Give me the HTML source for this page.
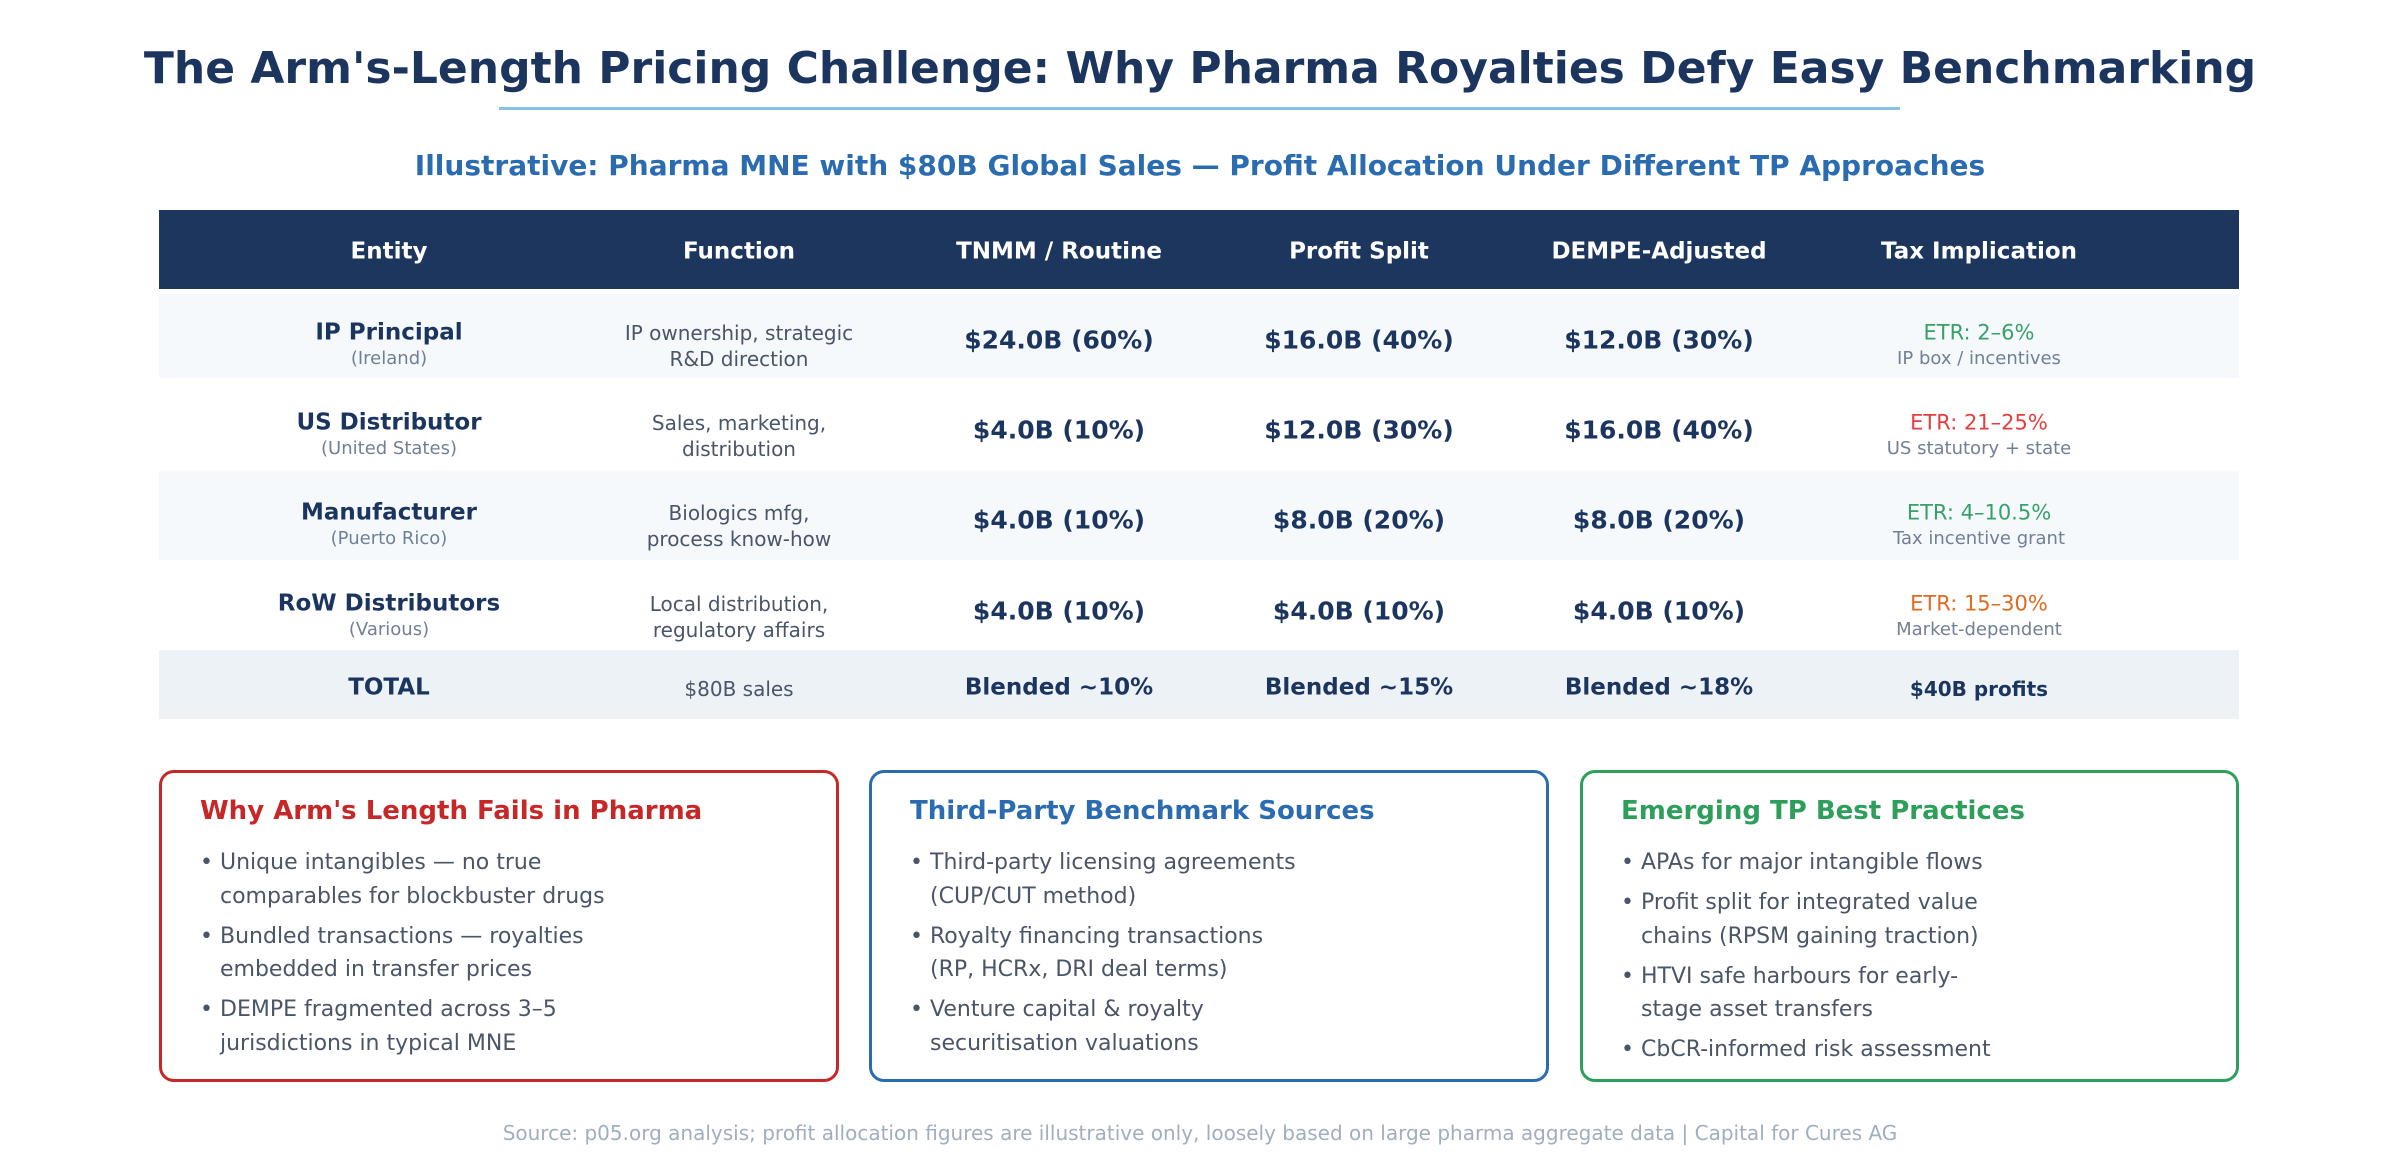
<!DOCTYPE html>
<html><head><meta charset="utf-8"><style>
body{margin:0;background:#fff;font-family:"DejaVu Sans","Liberation Sans",sans-serif;}
#root{position:relative;width:2400px;height:1160px;overflow:hidden;}
.t{position:absolute;white-space:nowrap;transform:translate(-50%,-50%);line-height:1;}
.l{position:absolute;white-space:nowrap;line-height:1;transform:translateY(-50%);}
.b{font-weight:bold;}
.row{position:absolute;left:159px;width:2080px;}
.box{position:absolute;top:770px;height:312px;border:3px solid;border-radius:15px;box-sizing:border-box;}
</style></head><body>
<div id="root">
<div class="t b" style="left:1200px;top:69px;font-size:44px;color:#1c355e">The Arm's-Length Pricing Challenge: Why Pharma Royalties Defy Easy Benchmarking</div>
<div style="position:absolute;left:499px;top:107px;width:1401px;height:3px;background:#85c1e9"></div>
<div class="t b" style="left:1200px;top:166px;font-size:28px;color:#2b6cb0">Illustrative: Pharma MNE with $80B Global Sales — Profit Allocation Under Different TP Approaches</div>

<div class="row" style="top:210px;height:79px;background:#1c365d"></div>
<div class="row" style="top:294px;height:84px;background:#f5f9fc"></div>
<div class="row" style="top:471px;height:89px;background:#f5f9fc"></div>
<div class="row" style="top:650px;height:69px;background:#edf2f7"></div>
<div id="tbl"></div>

<div class="box" style="left:159px;width:680px;border-color:#c62828"></div>
<div class="box" style="left:869px;width:680px;border-color:#2b6cb0"></div>
<div class="box" style="left:1580px;width:659px;border-color:#2e9e5b"></div>
<div id="cards"></div>

<div class="t" style="left:1200px;top:1133px;font-size:20px;color:#a0aec0">Source: p05.org analysis; profit allocation figures are illustrative only, loosely based on large pharma aggregate data | Capital for Cures AG</div>
</div>
<script>
const colX=[389,739,1059,1359,1659,1979];
const headers=["Entity","Function","TNMM / Routine","Profit Split","DEMPE-Adjusted","Tax Implication"];
const rowsY=[337,427,517,608];
const entities=[["IP Principal","(Ireland)"],["US Distributor","(United States)"],["Manufacturer","(Puerto Rico)"],["RoW Distributors","(Various)"]];
const funcs=[["IP ownership, strategic","R&D direction"],["Sales, marketing,","distribution"],["Biologics mfg,","process know-how"],["Local distribution,","regulatory affairs"]];
const tnmm=["$24.0B (60%)","$4.0B (10%)","$4.0B (10%)","$4.0B (10%)"];
const split=["$16.0B (40%)","$12.0B (30%)","$8.0B (20%)","$4.0B (10%)"];
const dempe=["$12.0B (30%)","$16.0B (40%)","$8.0B (20%)","$4.0B (10%)"];
const tax=[["ETR: 2–6%","IP box / incentives","#38a169"],["ETR: 21–25%","US statutory + state","#e53e3e"],["ETR: 4–10.5%","Tax incentive grant","#38a169"],["ETR: 15–30%","Market-dependent","#dd6b20"]];
const R=document.getElementById('root');
function txt(x,y,s,size,color,bold,name){const d=document.createElement('div');d.className='t'+(bold?' b':'');d.style.left=x+'px';d.style.top=y+'px';d.style.fontSize=size+'px';d.style.color=color;d.textContent=s;


R.appendChild(d);return d;}
headers.forEach((h,i)=>txt(colX[i],252,h,23,'#fff',true,'header-'+i));
rowsY.forEach((y,r)=>{
 txt(colX[0],y-4,entities[r][0],23,'#1c355e',true,'entity-name');
 txt(colX[0],y+22,entities[r][1],18,'#718096',false,'entity-location');
 txt(colX[1],y-4,funcs[r][0],20,'#4a5568',false,'function-line1');
 txt(colX[1],y+22,funcs[r][1],20,'#4a5568',false,'function-line2');
 txt(colX[2],y+3,tnmm[r],25,'#1c355e',true,'tnmm-value');
 txt(colX[3],y+3,split[r],25,'#1c355e',true,'split-value');
 txt(colX[4],y+3,dempe[r],25,'#1c355e',true,'dempe-value');
 txt(colX[5],y-4,tax[r][0],21,tax[r][2],false,'etr-range');
 txt(colX[5],y+22,tax[r][1],18,'#718096',false,'tax-note');
});
txt(colX[0],688,'TOTAL',23,'#1c355e',true,'total-label');
txt(colX[1],689,'$80B sales',20,'#4a5568',false,'total-sales');
txt(colX[2],688,'Blended ~10%',23,'#1c355e',true,'total-tnmm');
txt(colX[3],688,'Blended ~15%',23,'#1c355e',true,'total-split');
txt(colX[4],688,'Blended ~18%',23,'#1c355e',true,'total-dempe');
txt(colX[5],689,'$40B profits',20,'#1c355e',true,'total-profits');
const cards=[
 {x:159,title:"Why Arm's Length Fails in Pharma",c:'#c62828',lines:[["• ","Unique intangibles — no true",863],["","comparables for blockbuster drugs",897],["• ","Bundled transactions — royalties",937],["","embedded in transfer prices",970],["• ","DEMPE fragmented across 3–5",1010],["","jurisdictions in typical MNE",1044]]},
 {x:869,title:"Third-Party Benchmark Sources",c:'#2b6cb0',lines:[["• ","Third-party licensing agreements",863],["","(CUP/CUT method)",897],["• ","Royalty financing transactions",937],["","(RP, HCRx, DRI deal terms)",970],["• ","Venture capital & royalty",1010],["","securitisation valuations",1044]]},
 {x:1580,title:"Emerging TP Best Practices",c:'#2e9e5b',lines:[["• ","APAs for major intangible flows",863],["• ","Profit split for integrated value",903],["","chains (RPSM gaining traction)",937],["• ","HTVI safe harbours for early-",977],["","stage asset transfers",1010],["• ","CbCR-informed risk assessment",1050]]}
];
cards.forEach((c,i)=>{
 const t=document.createElement('div');t.className='l b';t.style.left=(c.x+41)+'px';t.style.top='811px';t.style.fontSize='26px';t.style.color=c.c;t.textContent=c.title;
 
 
 R.appendChild(t);
 c.lines.forEach(l=>{
  if(l[0]){const b=document.createElement('div');b.className='l';b.style.left=(c.x+41)+'px';b.style.top=l[2]+'px';b.style.fontSize='22px';b.style.color='#4a5568';b.textContent='•';
  
  
  R.appendChild(b);}
  const d=document.createElement('div');d.className='l';d.style.left=(c.x+61)+'px';d.style.top=l[2]+'px';d.style.fontSize='22px';d.style.color='#4a5568';d.textContent=l[1];
  
  
  R.appendChild(d);
 });
});
</script>
</body></html>
